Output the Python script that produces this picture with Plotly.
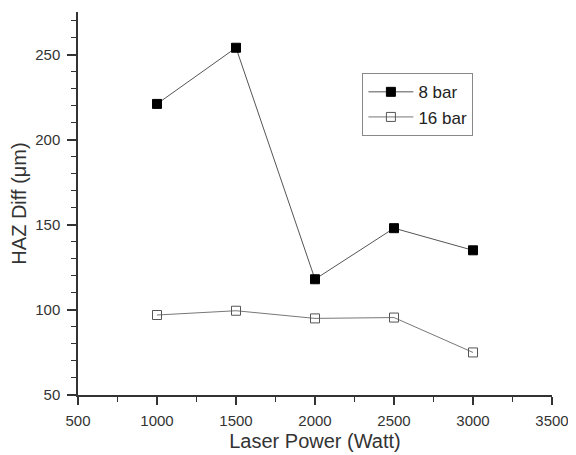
import plotly.graph_objects as go

power = [1000, 1500, 2000, 2500, 3000]
haz_8bar = [221, 254, 118, 148, 135]
haz_16bar = [97, 99.5, 95, 95.5, 75]

x_ticks = [500, 1000, 1500, 2000, 2500, 3000, 3500]
y_ticks = [50, 100, 150, 200, 250]

fig = go.Figure()
fig.add_trace(go.Scatter(
    x=power, y=haz_8bar, mode="lines+markers", name="8 bar",
    line=dict(color="#555555", width=1),
    marker=dict(symbol="square", size=9, color="black", line=dict(color="black", width=1)),
))
fig.add_trace(go.Scatter(
    x=power, y=haz_16bar, mode="lines+markers", name="16 bar",
    line=dict(color="#777777", width=1),
    marker=dict(symbol="square-open", size=9, color="#555555", line=dict(width=1)),
))

axis_font = dict(family="Arial, Liberation Sans, sans-serif", size=15, color="#333333")
# page body has an 8px default margin; the figure is sized to fit inside the window
fig.update_layout(
    width=568, height=447,
    margin=dict(l=70, r=24, t=4, b=60),
    plot_bgcolor="white", paper_bgcolor="white",
    font=dict(family="Arial, Liberation Sans, sans-serif", color="#333333"),
    showlegend=True,
    legend=dict(
        x=0.6, y=0.84, xanchor="left", yanchor="top",
        bordercolor="#888888", borderwidth=1,
        font=dict(size=17, color="#222222"),
        bgcolor="white", tracegroupgap=0, itemwidth=45,
    ),
    xaxis=dict(
        range=[500, 3500], tickvals=x_ticks, showgrid=False, zeroline=False,
        showline=True, linecolor="#333333", linewidth=1.5, automargin=True,
        ticks="outside", ticklen=8, tickwidth=1.5, tickcolor="#333333",
        ticklabelstandoff=3,
        minor=dict(dtick=250, ticks="outside", ticklen=5, tickwidth=1.2, tickcolor="#333333"),
        tickfont=axis_font,
        title=dict(text="Laser Power (Watt)", font=dict(size=20, color="#333333"), standoff=6),
    ),
    yaxis=dict(
        range=[50, 275], tickvals=y_ticks, showgrid=False, zeroline=False,
        showline=True, linecolor="#333333", linewidth=1.5, automargin=True,
        ticks="outside", ticklen=9, tickwidth=1.5, tickcolor="#333333",
        ticklabelstandoff=4,
        minor=dict(dtick=10, ticks="outside", ticklen=5, tickwidth=1.2, tickcolor="#333333"),
        tickfont=axis_font,
        title=dict(text="HAZ Diff (μm)", font=dict(size=20, color="#333333"), standoff=6),
    ),
)

fig.write_html("out.html")
